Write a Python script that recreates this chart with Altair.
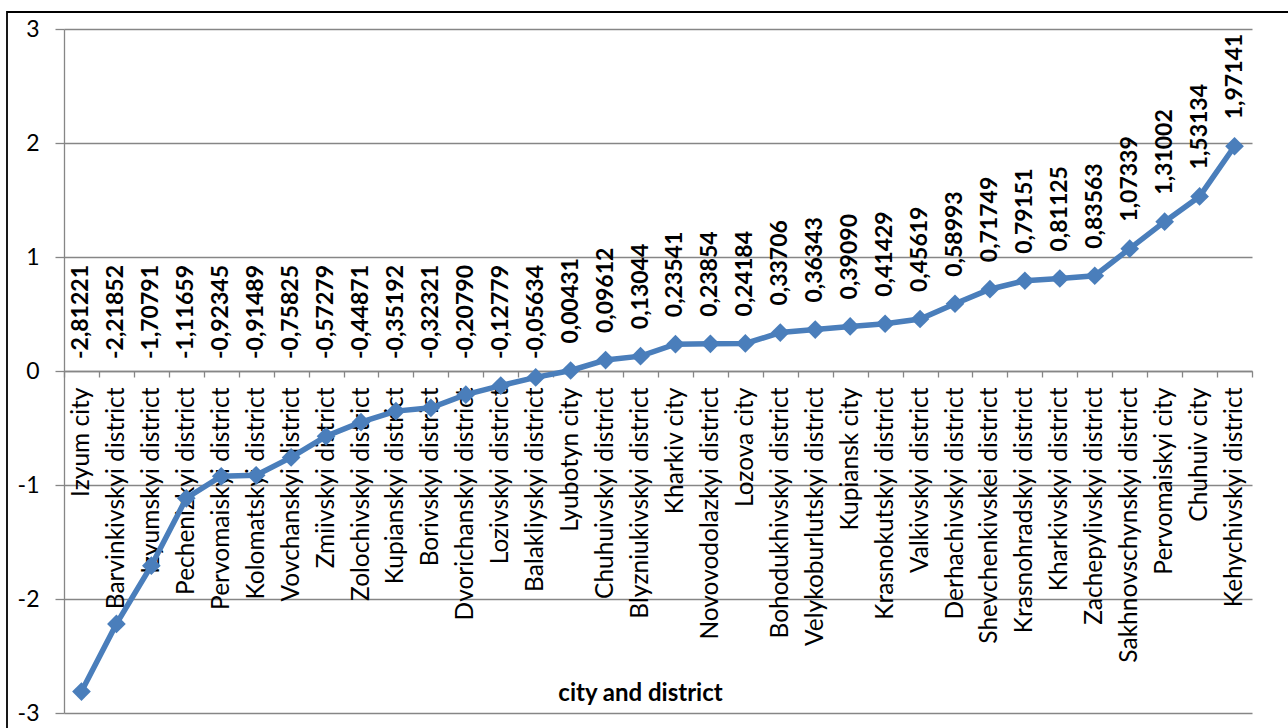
import altair as alt
import pandas as pd

categories = [
    "Izyum city", "Barvinkivskyi district", "Izyumskyi district", "Pechenizkyi district",
    "Pervomaiskyi district", "Kolomatskyi district", "Vovchanskyi district", "Zmiivskyi district",
    "Zolochivskyi district", "Kupianskyi district", "Borivskyi district", "Dvorichanskyi district",
    "Lozivskyi district", "Balakliyskyi district", "Lyubotyn city", "Chuhuivskyi district",
    "Blyzniukivskyi district", "Kharkiv city", "Novovodolazkyi district", "Lozova city",
    "Bohodukhivskyi district", "Velykoburlutskyi district", "Kupiansk city", "Krasnokutskyi district",
    "Valkivskyi district", "Derhachivskyi district", "Shevchenkivskei district", "Krasnohradskyi district",
    "Kharkivskyi district", "Zachepylivskyi district", "Sakhnovschynskyi district", "Pervomaiskyi city",
    "Chuhuiv city", "Kehychivskyi district",
]
values = [
    -2.81221, -2.21852, -1.70791, -1.11659, -0.92345, -0.91489, -0.75825, -0.57279,
    -0.44871, -0.35192, -0.32321, -0.20790, -0.12779, -0.05634, 0.00431, 0.09612,
    0.13044, 0.23541, 0.23854, 0.24184, 0.33706, 0.36343, 0.39090, 0.41429,
    0.45619, 0.58993, 0.71749, 0.79151, 0.81125, 0.83563, 1.07339, 1.31002,
    1.53134, 1.97141,
]
y_ticks = [-3, -2, -1, 0, 1, 2, 3]

df = pd.DataFrame({"place": categories, "value": values, "order": list(range(len(categories)))})

LINE = "#4A7EBB"
GRID = "#868686"
FONT = "Lato"

x_enc = alt.X(
    "place:N",
    sort=None,
    scale=alt.Scale(type="band", paddingInner=0, paddingOuter=0),
    axis=alt.Axis(
        title="city and district",
        labelAngle=270, labelAlign="right", labelBaseline="middle",
        labelFont=FONT, labelFontSize=24.5, labelColor="black", labelPadding=10,
        labelLimit=500, labelOverlap=False,
        tickBand="extent", tickSize=6, tickColor=GRID, tickWidth=1.3,
        domainColor=GRID, domainWidth=1.3, offset=-342, grid=False,
        titleFont=FONT, titleFontSize=24, titleFontWeight="bold", titleColor="black",
        titleX=576, titleY=322, titleBaseline="middle", titleAlign="center",
    ),
)
y_enc = alt.Y(
    "value:Q",
    scale=alt.Scale(domain=[-3, 3], nice=False, zero=False),
    axis=alt.Axis(
        values=y_ticks, title=None, grid=True, gridColor=GRID, gridWidth=1.3,
        domainColor=GRID, domainWidth=1.3, tickColor=GRID, tickWidth=1.3, tickSize=9,
        labelFont=FONT, labelFontSize=23, labelColor="black", labelPadding=16,
        labelExpr="datum.value < 0 ? '-' + abs(datum.value) : '' + datum.value",
    ),
)

base = alt.Chart(df)

border = alt.Chart(pd.DataFrame({"a": [0]})).mark_rect(
    fillOpacity=0, stroke="black", strokeWidth=1.8
).encode(x=alt.value(-57), x2=alt.value(1260), y=alt.value(-17), y2=alt.value(720))

line = base.mark_line(color=LINE, strokeWidth=5.5).encode(
    x=x_enc, y=y_enc, order=alt.Order("order:Q")
)
points = base.mark_point(shape="diamond", filled=True, size=350, color=LINE, opacity=1).encode(
    x=x_enc, y=y_enc
)

lab = base.transform_calculate(
    label="(datum.value < 0 ? '-' : '') + replace(format(abs(datum.value), '.5f'), '.', ',')"
)
pos_labels = lab.transform_filter("datum.value >= 0").mark_text(
    angle=270, align="left", baseline="middle", dx=27,
    font=FONT, fontSize=23, fontWeight="bold", color="black",
).encode(x=x_enc, y=alt.Y("value:Q"), text="label:N")
neg_labels = lab.transform_filter("datum.value < 0").mark_text(
    angle=270, align="right", baseline="middle", dx=106,
    font=FONT, fontSize=23, fontWeight="bold", color="black",
).encode(x=x_enc, y=alt.Y(datum=0, type="quantitative"), text="label:N")

chart = alt.layer(border, line, points, pos_labels, neg_labels).properties(
    width=1188, height=684,
    autosize=alt.AutoSizeParams(type="none"),
    padding={"left": 64, "top": 29, "right": 36, "bottom": 15},
    background="white",
).configure_view(strokeOpacity=0)

chart.save("out.html", embed_options={"renderer": "svg", "actions": False})
